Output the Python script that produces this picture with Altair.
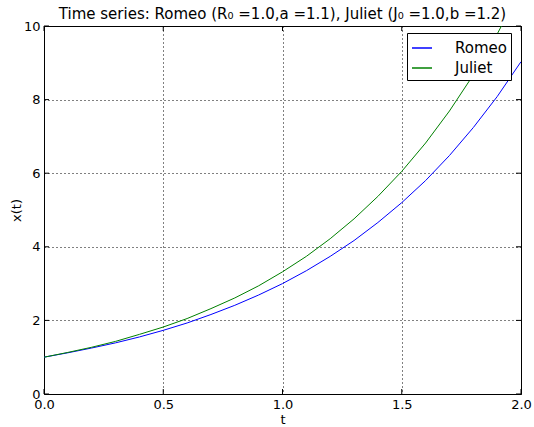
import altair as alt
import pandas as pd

t_vals = [0.0, 0.1, 0.2, 0.3, 0.4, 0.5, 0.6, 0.7, 0.8, 0.9, 1.0,
          1.1, 1.2, 1.3, 1.4, 1.5, 1.6, 1.7, 1.8, 1.9, 2.0]
romeo = [1.0, 1.12, 1.25, 1.39, 1.55, 1.73, 1.93, 2.16, 2.41, 2.69, 3.0,
         3.35, 3.74, 4.17, 4.66, 5.2, 5.8, 6.48, 7.24, 8.08, 9.03]
juliet = [1.0, 1.13, 1.27, 1.43, 1.62, 1.82, 2.05, 2.32, 2.61, 2.94, 3.32,
          3.74, 4.22, 4.76, 5.37, 6.05, 6.82, 7.69, 8.67, 9.78, 11.0]
series_names = ["Romeo", "Juliet"]
series_colors = ["#0000ff", "#008000"]
x_ticks = [0.0, 0.5, 1.0, 1.5, 2.0]
y_ticks = [0, 2, 4, 6, 8, 10]

rows = []
for i, t in enumerate(t_vals):
    rows.append({"t": t, "x": romeo[i], "series": "Romeo"})
    rows.append({"t": t, "x": juliet[i], "series": "Juliet"})
df = pd.DataFrame(rows)

FONT = "DejaVu Sans"
W, H = 477, 368
TICK = 5

xs = alt.Scale(domain=[0, 2], nice=False)
ys = alt.Scale(domain=[0, 10], nice=False)
x_axis = alt.Axis(values=x_ticks, format=".1f", title="t")
y_axis = alt.Axis(values=y_ticks, format="d", title="x(t)")

lines = alt.Chart(df).mark_line(clip=True, strokeWidth=1).encode(
    x=alt.X("t:Q", title="t", scale=xs, axis=x_axis),
    y=alt.Y("x:Q", title="x(t)", scale=ys, axis=y_axis),
    color=alt.Color("series:N", title=None,
                    scale=alt.Scale(domain=series_names, range=series_colors),
                    legend=alt.Legend(orient="none", legendX=363, legendY=7,
                                      symbolSize=400,
                                      labelFontSize=15, labelFont=FONT,
                                      labelColor="black",
                                      strokeColor="black", fillColor="white",
                                      padding=4, rowPadding=1,
                                      labelOffset=22, cornerRadius=0)),
)

xt = pd.DataFrame({"t": x_ticks})
yt = pd.DataFrame({"x": y_ticks})

xtick_bottom = alt.Chart(xt).mark_rule(color="black", strokeWidth=1).encode(
    x=alt.X("t:Q", title="t", scale=xs, axis=x_axis), y=alt.value(H), y2=alt.value(H - TICK))
xtick_top = alt.Chart(xt).mark_rule(color="black", strokeWidth=1).encode(
    x=alt.X("t:Q", title="t", scale=xs, axis=x_axis), y=alt.value(0), y2=alt.value(TICK))
ytick_left = alt.Chart(yt).mark_rule(color="black", strokeWidth=1).encode(
    y=alt.Y("x:Q", title="x(t)", scale=ys, axis=y_axis), x=alt.value(0), x2=alt.value(TICK))
ytick_right = alt.Chart(yt).mark_rule(color="black", strokeWidth=1).encode(
    y=alt.Y("x:Q", title="x(t)", scale=ys, axis=y_axis), x=alt.value(W), x2=alt.value(W - TICK))

chart = alt.layer(
    lines, xtick_bottom, xtick_top, ytick_left, ytick_right
).properties(
    width=W, height=H,
    title=alt.Title("Time series: Romeo (R\u2080 =1.0,a =1.1), Juliet (J\u2080 =1.0,b =1.2)",
                    font=FONT, fontSize=15, fontWeight="normal", color="black",
                    frame="group", offset=-2),
    autosize=alt.AutoSizeParams(type="none"),
    padding={"left": 44, "top": 26, "right": 13, "bottom": 33},
).configure_view(
    stroke="black", strokeWidth=1
).configure_axis(
    grid=True, gridColor="black", gridDash=[1, 3], gridOpacity=1, gridWidth=1,
    domain=False, ticks=False,
    labelFont=FONT, labelFontSize=13, labelColor="black", labelPadding=4,
    titleFont=FONT, titleFontSize=13, titleFontWeight="normal", titleColor="black",
).configure_axisX(
    titlePadding=2, labelFlush=False
).configure_axisY(
    titlePadding=0, labelFlush=False
)

chart.save("out.html", embed_options={"renderer": "svg", "actions": False})
